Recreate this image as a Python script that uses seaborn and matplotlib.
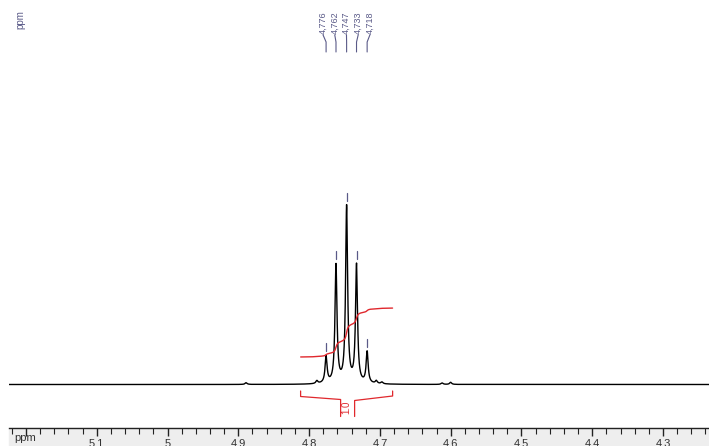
import numpy as np
import pandas as pd
import seaborn as sns
import matplotlib.pyplot as plt
from matplotlib.patches import Rectangle
from matplotlib.ticker import MultipleLocator

# peak list (ppm, relative height)
peak_ppm = [4.776, 4.762, 4.747, 4.733, 4.718]
peak_height = [0.150, 0.669, 1.000, 0.669, 0.178]
peak_labels = ["4,776", "4,762", "4,747", "4,733", "4,718"]

# small bumps / noise near the multiplet
minor_ppm = [4.889, 4.789, 4.705, 4.697, 4.612, 4.600]
minor_height = [0.010, 0.016, 0.016, 0.010, 0.008, 0.012]

integral_value = "1.0"
integral_range = (4.812, 4.682)
xlim = (5.224, 4.235)

sns.set_theme(style="white")
plt.rcParams['font.family'] = ['Liberation Sans', 'DejaVu Sans']

# lorentzian line shape from the peak list
hwhm = 0.0017
ppm = np.linspace(xlim[0], xlim[1], 8000)
intensity = np.zeros_like(ppm)
for p, h in zip(peak_ppm + minor_ppm, peak_height + minor_height):
    intensity += h * hwhm**2 / (hwhm**2 + (ppm - p)**2)
spec = pd.DataFrame({"ppm": ppm, "intensity": intensity})

# running integral over the multiplet
sel = spec[(spec.ppm <= integral_range[0]) & (spec.ppm >= integral_range[1])].copy()
cum = np.cumsum(sel.intensity.values)
sel["integral"] = 0.156 + 0.277 * cum / cum[-1]

fig = plt.figure(figsize=(7.09, 4.46), dpi=100)
ax = fig.add_axes([9/709, 18/446, 700/709, 428/446])
ax.set_facecolor("none")
fig.patches.append(Rectangle((9/709, 0), 700/709, 18/446, transform=fig.transFigure,
                             color="#eeeeee", zorder=-5))

sns.lineplot(data=spec, x="ppm", y="intensity", ax=ax, color="black", lw=1.0)
sns.lineplot(data=sel, x="ppm", y="integral", ax=ax, color="#e0282d", lw=1.0)

ax.set_xlim(*xlim)
px = 1 / 176.5  # one pixel in intensity units
ax.set_ylim(-43.5 * px, 384.5 * px)
ax.set_xlabel("")
ax.set_ylabel("")
ax.set_yticks([])
for s in ["top", "left", "right"]:
    ax.spines[s].set_visible(False)
ax.spines["bottom"].set_color("#222222")
ax.spines["bottom"].set_linewidth(1.0)
ax.xaxis.set_major_locator(MultipleLocator(0.1))
ax.xaxis.set_minor_locator(MultipleLocator(0.02))


def tick_fmt(v, pos):
    if v > 5.15:
        return ""
    return f"{v:.1f}".rstrip("0").rstrip(".")


ax.xaxis.set_major_formatter(tick_fmt)
ax.tick_params(axis="x", which="major", direction="out", length=6, width=1,
               color="#222222", labelsize=8, labelcolor="#333333", pad=2, bottom=True)
ax.tick_params(axis="x", which="minor", direction="out", length=4, width=0.8,
               color="#222222", bottom=True)

lab_col = "#5a5a88"
# peak markers and labels
tr = ax.get_xaxis_transform()
ppx = 0.1 / 70.8  # ppm per pixel
center = np.mean(peak_ppm)
for i, (p, lab) in enumerate(zip(peak_ppm, peak_labels)):
    top = spec.intensity[np.abs(spec.ppm - p).idxmin()]
    ax.plot([p, p], [top + 4 * px, top + 12 * px], color=lab_col, lw=0.9)
    tx = center - (i - 2) * 11.7 * ppx
    ax.plot([tx, p, p], [(428 - 35) / 428, (428 - 42) / 428, (428 - 52) / 428],
            transform=tr, color=lab_col, lw=0.8)
    ax.text(tx, (428 - 34) / 428, lab, transform=tr, rotation=90, ha="center",
            va="bottom", fontsize=6.5, color=lab_col)

# integral bracket
a, b = integral_range
mid = (a + b) / 2
ax.plot([a, a, mid + 6 * ppx, mid + 6 * ppx],
        [-6.5 * px, -12 * px, -15 * px, -32 * px], color="#e0282d", lw=0.9)
ax.plot([mid - 8 * ppx, mid - 8 * ppx, b, b],
        [-32 * px, -16 * px, -11.5 * px, -6.5 * px], color="#e0282d", lw=0.9)
ax.text(mid, -22.5 * px, integral_value, rotation=90, ha="center", va="center",
        fontsize=7, color="#e0282d")

fig.text(20/709, 1 - 20/446, "ppm", rotation=90, ha="center", va="center",
         fontsize=7, color=lab_col)
fig.text(14/709, 1 - 438/446, "ppm", ha="left", va="center", fontsize=8, color="#333333")

fig.savefig("out.png", dpi=100)
